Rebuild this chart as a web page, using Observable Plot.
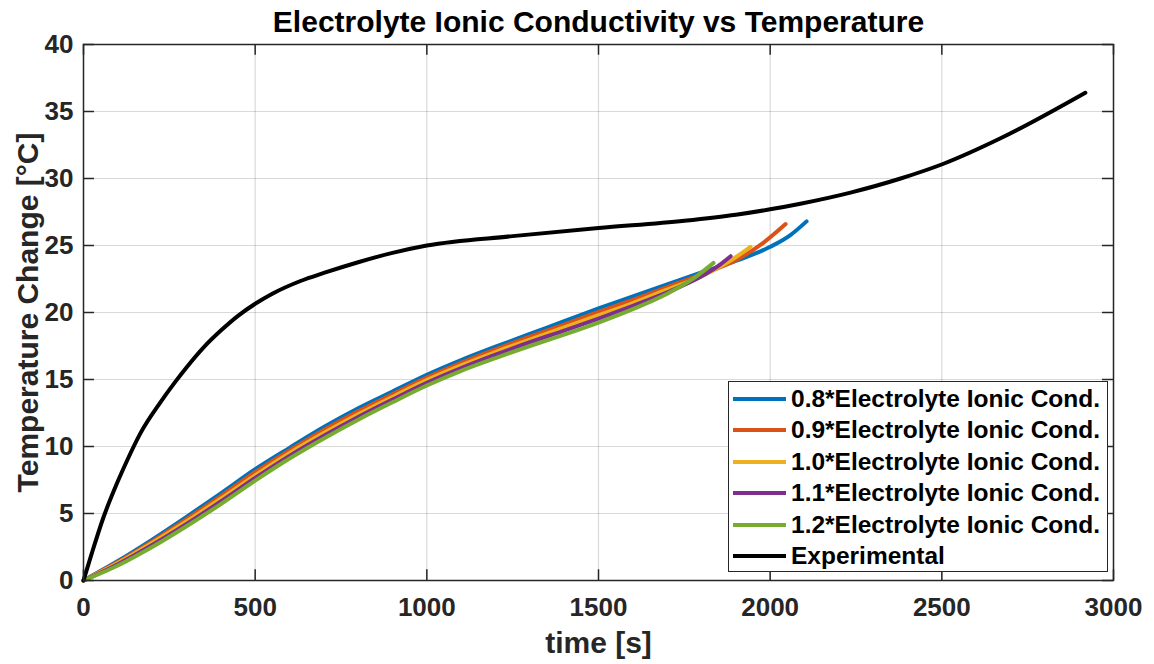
<!DOCTYPE html>
<html>
<head>
<meta charset="utf-8">
<script src="https://cdn.jsdelivr.net/npm/d3@7"></script>
<script src="https://cdn.jsdelivr.net/npm/@observablehq/plot@0.6"></script>
<style>
  body { margin: 0; background: #fff; }
  #wrap { position: relative; width: 1154px; height: 664px; }
  #legend { position: absolute; left: 728px; top: 381px; width: 378px; height: 189px;
    border: 1.2px solid #262626; background: #fff; font-family: "Liberation Sans", Arial, sans-serif;
    font-weight: bold; font-size: 24.5px; color: #000; box-sizing: content-box; }
  .row { position: absolute; left: 0; height: 30px; display: flex; align-items: center; }
  .sw { width: 53px; height: 4px; margin-left: 4px; margin-right: 5px; }
</style>
</head>
<body>
<div id="wrap"></div>
<script>
const title = "Electrolyte Ionic Conductivity vs Temperature";
const xLabel = "time [s]";
const yLabel = "Temperature Change [°C]";
const xTicks = [0, 500, 1000, 1500, 2000, 2500, 3000];
const yTicks = [0, 5, 10, 15, 20, 25, 30, 35, 40];

const seriesNames = [
  "0.8*Electrolyte Ionic Cond.",
  "0.9*Electrolyte Ionic Cond.",
  "1.0*Electrolyte Ionic Cond.",
  "1.1*Electrolyte Ionic Cond.",
  "1.2*Electrolyte Ionic Cond.",
  "Experimental"
];
const seriesColors = ["#0072BD", "#D95319", "#EDB120", "#7E2F8E", "#77AC30", "#000000"];

// [time s, temperature change °C]
const cond08 = [[0,0],[100,1.45],[200,3.05],[300,4.75],[400,6.5],[500,8.3],[600,9.9],[700,11.45],[800,12.85],[900,14.1],[1000,15.35],[1100,16.45],[1200,17.45],[1300,18.4],[1400,19.35],[1500,20.3],[1600,21.2],[1700,22.1],[1800,23.0],[1900,23.85],[2000,24.9],[2060,25.8],[2106,26.8]];
const cond09 = [[0,0],[100,1.38],[200,2.92],[300,4.58],[400,6.3],[500,8.08],[600,9.7],[700,11.23],[800,12.62],[900,13.9],[1000,15.15],[1100,16.25],[1200,17.25],[1300,18.2],[1400,19.1],[1500,20.05],[1600,20.95],[1700,21.9],[1800,22.85],[1900,23.9],[1980,25.2],[2045,26.6]];
const cond10 = [[0,0],[100,1.3],[200,2.8],[300,4.4],[400,6.1],[500,7.85],[600,9.5],[700,11.0],[800,12.4],[900,13.7],[1000,14.95],[1100,16.05],[1200,17.05],[1300,17.98],[1400,18.88],[1500,19.8],[1600,20.7],[1700,21.7],[1800,22.7],[1880,23.8],[1943,24.9]];
const cond11 = [[0,0],[100,1.22],[200,2.65],[300,4.22],[400,5.9],[500,7.65],[600,9.3],[700,10.8],[800,12.2],[900,13.5],[1000,14.75],[1100,15.85],[1200,16.85],[1300,17.78],[1400,18.65],[1500,19.55],[1600,20.5],[1700,21.5],[1800,22.7],[1850,23.5],[1885,24.2]];
const cond12 = [[0,0],[100,1.12],[200,2.5],[300,4.05],[400,5.7],[500,7.45],[600,9.1],[700,10.6],[800,12.0],[900,13.3],[1000,14.55],[1100,15.65],[1200,16.6],[1300,17.5],[1400,18.35],[1500,19.25],[1600,20.25],[1700,21.4],[1780,22.6],[1835,23.7]];
const experimental = [[0,0],[25,2.1],[58,4.7],[100,7.4],[126,8.9],[166,11.0],[224,13.3],[265,14.75],[300,15.9],[350,17.4],[400,18.65],[450,19.75],[500,20.65],[550,21.4],[632,22.35],[700,22.95],[800,23.75],[900,24.45],[1000,25.0],[1250,25.7],[1500,26.3],[1750,26.85],[1900,27.3],[2000,27.7],[2088,28.12],[2234,28.95],[2380,30.0],[2505,31.1],[2671,33.0],[2918,36.4]];

const allSeries = [cond08, cond09, cond10, cond11, cond12, experimental];

const lineMarks = allSeries.map((s, i) =>
  Plot.line(s, {x: d => d[0], y: d => d[1], stroke: seriesColors[i], strokeWidth: 4, curve: "monotone-x"})
);

const chart = Plot.plot({
  width: 1154,
  height: 664,
  marginLeft: 83,
  marginRight: 41,
  marginTop: 44,
  marginBottom: 84,
  style: {fontFamily: "'Liberation Sans', Arial, sans-serif", fontWeight: "bold", fontSize: "25px", color: "#262626", background: "#fff"},
  x: {domain: [0, 3000]},
  y: {domain: [0, 40]},
  marks: [
    Plot.gridX(xTicks, {stroke: "#000", strokeOpacity: 0.15, strokeWidth: 1.2}),
    Plot.gridY(yTicks, {stroke: "#000", strokeOpacity: 0.15, strokeWidth: 1.2}),
    ...lineMarks,
    Plot.frame({stroke: "#262626", strokeWidth: 1.5}),
    Plot.ruleX(xTicks, {y1: 0, y2: 0.8, stroke: "#262626", strokeWidth: 1.5}),
    Plot.ruleX(xTicks, {y1: 40, y2: 39.2, stroke: "#262626", strokeWidth: 1.5}),
    Plot.ruleY(yTicks, {x1: 0, x2: 32, stroke: "#262626", strokeWidth: 1.5}),
    Plot.ruleY(yTicks, {x1: 3000, x2: 2968, stroke: "#262626", strokeWidth: 1.5}),
    Plot.axisX(xTicks, {tickSize: 0, tickPadding: 17, fontSize: 26, tickFormat: d3.format("d"), label: null}),
    Plot.axisY(yTicks, {tickSize: 0, tickPadding: 10, fontSize: 26, tickFormat: d3.format("d"), label: null}),
    Plot.text([xLabel], {frameAnchor: "bottom", dy: 63, lineAnchor: "middle", fontSize: 30, fill: "#262626", text: d => d}),
    Plot.text([yLabel], {frameAnchor: "left", dx: -55, rotate: -90, textAnchor: "middle", lineAnchor: "middle", fontSize: 30, fill: "#262626", text: d => d}),
    Plot.text([title], {frameAnchor: "top", dy: -22, lineAnchor: "middle", fontSize: 30, fill: "#000", text: d => d})
  ]
});

const wrap = document.getElementById("wrap");
wrap.appendChild(chart);

const legend = document.createElement("div");
legend.id = "legend";
seriesNames.forEach((name, i) => {
  const row = document.createElement("div");
  row.className = "row";
  row.style.top = (2 + i * 31.4) + "px";
  const sw = document.createElement("div");
  sw.className = "sw";
  sw.style.background = seriesColors[i];
  const tx = document.createElement("span");
  tx.textContent = name;
  row.appendChild(sw);
  row.appendChild(tx);
  legend.appendChild(row);
});
wrap.appendChild(legend);
</script>
</body>
</html>
